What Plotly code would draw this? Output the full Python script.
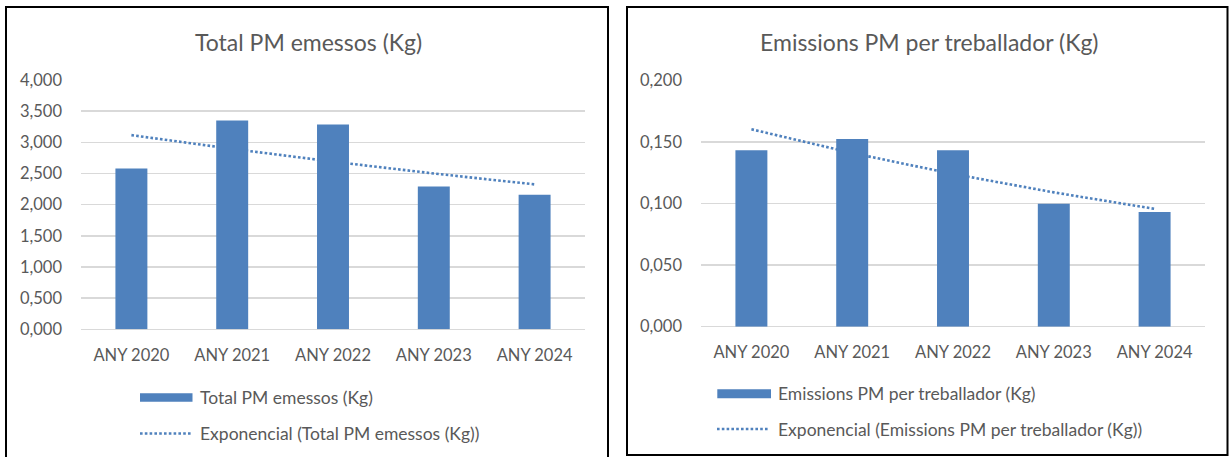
import plotly.graph_objects as go

W, H = 1229, 457

# ---- data ----
categories = ["ANY 2020", "ANY 2021", "ANY 2022", "ANY 2023", "ANY 2024"]
total_pm = [2.581, 3.349, 3.285, 2.293, 2.160]
total_pm_trend = [3.115, 2.895, 2.690, 2.500, 2.325]
per_worker = [0.1434, 0.1526, 0.1434, 0.1000, 0.0932]
per_worker_trend = [0.1605, 0.1412, 0.1242, 0.1092, 0.0958]

left_title = "Total PM emessos (Kg)"
right_title = "Emissions PM per treballador (Kg)"
left_bar_name = "Total PM emessos (Kg)"
left_trend_name = "Exponencial (Total PM emessos (Kg))"
right_bar_name = "Emissions PM per treballador (Kg)"
right_trend_name = "Exponencial (Emissions PM per treballador (Kg))"
left_range = [0, 4]
left_dtick = 0.5
right_range = [0, 0.2]
right_dtick = 0.05

# ---- style ----
BAR = "#4F81BD"
TXT = "#595959"
GRID = "#D9D9D9"
FONT = "Lato"
TICK_SIZE = 16.5
LEG_SIZE = 17.5
TITLE_SIZE = 23


def px(x):
    return x / W


def py(y):
    return 1 - y / H


fig = go.Figure()

# trend lines on the base axes (drawn beneath the bars)
fig.add_trace(go.Scatter(x=categories, y=total_pm_trend, mode="lines",
                         line=dict(color=BAR, width=2.6, dash="2.6px,2.2px"),
                         name=left_trend_name, showlegend=False,
                         xaxis="x", yaxis="y", hoverinfo="skip"))
fig.add_trace(go.Bar(x=categories, y=total_pm, marker_color=BAR,
                     marker_line_width=0, name=left_bar_name, showlegend=False,
                     xaxis="x", yaxis="y3"))
fig.add_trace(go.Scatter(x=categories, y=per_worker_trend, mode="lines",
                         line=dict(color=BAR, width=2.6, dash="2.6px,2.2px"),
                         name=right_trend_name, showlegend=False,
                         xaxis="x2", yaxis="y2", hoverinfo="skip"))
fig.add_trace(go.Bar(x=categories, y=per_worker, marker_color=BAR,
                     marker_line_width=0, name=right_bar_name, showlegend=False,
                     xaxis="x2", yaxis="y4"))

xcommon = dict(type="category", showgrid=False, zeroline=False, showline=False,
               ticks="", tickfont=dict(family=FONT, size=TICK_SIZE, color=TXT),
               ticklabelstandoff=14, fixedrange=True, automargin=False)
ycommon = dict(showgrid=True, gridcolor=GRID, gridwidth=1.5, zeroline=True,
               zerolinecolor=GRID, zerolinewidth=1.5, showline=False, ticks="",
               tickformat=".3f", tickfont=dict(family=FONT, size=TICK_SIZE, color=TXT),
               ticklabelstandoff=18, fixedrange=True, automargin=False)

L_dom_x = [px(81), px(585)]
L_dom_y = [py(329.3), py(80)]
R_dom_x = [px(701), px(1205)]
R_dom_y = [py(326.7), py(80.7)]

fig.update_layout(
    template="none",
    width=W, height=H, autosize=False,
    margin=dict(l=0, r=0, t=0, b=0, pad=0),
    paper_bgcolor="white", plot_bgcolor="white",
    separators=",.",
    bargap=0.683,
    showlegend=False,
    xaxis=dict(domain=L_dom_x, anchor="y", **xcommon),
    yaxis=dict(domain=L_dom_y, anchor="x", range=left_range, dtick=left_dtick, **ycommon),
    yaxis3=dict(overlaying="y", anchor="x", range=left_range, visible=False,
                fixedrange=True, automargin=False),
    xaxis2=dict(domain=R_dom_x, anchor="y2", **xcommon),
    yaxis2=dict(domain=R_dom_y, anchor="x2", range=right_range, dtick=right_dtick, **ycommon),
    yaxis4=dict(overlaying="y2", anchor="x2", range=right_range, visible=False,
                fixedrange=True, automargin=False),
)

shapes = [
    # panel borders
    dict(type="rect", xref="paper", yref="paper", x0=px(6), x1=px(608), y0=py(462), y1=py(7),
         line=dict(color="black", width=2), fillcolor="rgba(0,0,0,0)", layer="above"),
    dict(type="rect", xref="paper", yref="paper", x0=px(627), x1=px(1227.5), y0=py(455), y1=py(7),
         line=dict(color="black", width=2), fillcolor="rgba(0,0,0,0)", layer="above"),
    # legend swatches (left)
    dict(type="rect", xref="paper", yref="paper", x0=px(140), x1=px(192.5), y0=py(401.7), y1=py(393.3),
         line=dict(width=0), fillcolor=BAR),
    dict(type="line", xref="paper", yref="paper", x0=px(140), x1=px(191), y0=py(433.5), y1=py(433.5),
         line=dict(color=BAR, width=2.6, dash="2.6px,2.2px")),
    # legend swatches (right)
    dict(type="rect", xref="paper", yref="paper", x0=px(717.3), x1=px(771), y0=py(398.3), y1=py(389.3),
         line=dict(width=0), fillcolor=BAR),
    dict(type="line", xref="paper", yref="paper", x0=px(717), x1=px(768), y0=py(429), y1=py(429),
         line=dict(color=BAR, width=2.6, dash="2.6px,2.2px")),
]

tf = dict(family=FONT, size=TITLE_SIZE, color=TXT)
lf = dict(family=FONT, size=LEG_SIZE, color=TXT)
annotations = [
    dict(text=left_title, xref="paper", yref="paper", x=px(309), y=py(42), showarrow=False,
         xanchor="center", yanchor="middle", font=tf),
    dict(text=right_title, xref="paper", yref="paper", x=px(929), y=py(42), showarrow=False,
         xanchor="center", yanchor="middle", font=tf),
    dict(text=left_bar_name, xref="paper", yref="paper", x=px(198), y=py(397), showarrow=False,
         xanchor="left", yanchor="middle", font=lf),
    dict(text=left_trend_name, xref="paper", yref="paper", x=px(198), y=py(433), showarrow=False,
         xanchor="left", yanchor="middle", font=lf),
    dict(text=right_bar_name, xref="paper", yref="paper", x=px(776), y=py(393.5), showarrow=False,
         xanchor="left", yanchor="middle", font=lf),
    dict(text=right_trend_name, xref="paper", yref="paper", x=px(776), y=py(429), showarrow=False,
         xanchor="left", yanchor="middle", font=lf),
]

fig.update_layout(shapes=shapes, annotations=annotations)

fig.write_html("out.html", config=dict(displayModeBar=False, staticPlot=True),
               post_script="document.body.style.margin='0px';document.body.style.overflow='hidden';")
